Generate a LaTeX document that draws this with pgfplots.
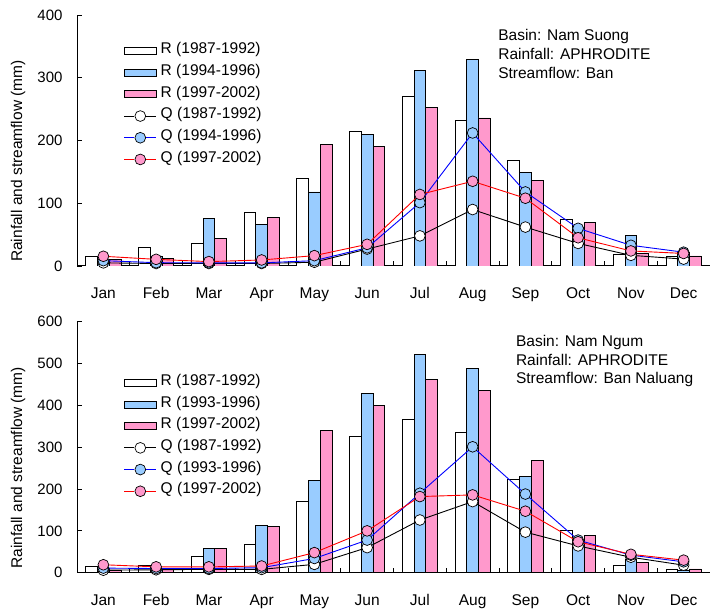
\documentclass[border=0pt]{standalone}
\usepackage{pgfplots}
\pgfplotsset{compat=1.18}
\usepackage{fontspec}
\setmainfont{Liberation Sans}
\definecolor{bblue}{RGB}{153,204,255}
\definecolor{bpink}{RGB}{255,153,204}
\pgfplotsset{
  mychart/.style={
    scale only axis, width=633pt, height=251pt,
    xmin=0.5, xmax=12.5, ymin=0,
    axis x line*=bottom, axis y line*=left,
    axis line style={line width=1pt},
    tick align=inside, tick pos=left,
    xtick={1,...,12},
    xticklabels={Jan,Feb,Mar,Apr,May,Jun,Jul,Aug,Sep,Oct,Nov,Dec},
    major x tick style={draw=none},
    minor xtick={1.5,2.5,...,11.5},
    minor tick length=5pt,
    major tick length=5pt,
    tick style={black, line width=0.8pt},
    xticklabel style={anchor=base, yshift=-33pt, font=\fontsize{15.5}{18}\selectfont},
    yticklabel style={xshift=-11pt, font=\fontsize{15}{18}\selectfont},
    /pgf/number format/assume math mode=true,
    ylabel={Rainfall and streamflow (mm)},
    ylabel style={at={(axis description cs:-0.093,0.418)}, anchor=center, font=\fontsize{15.5}{18}\selectfont},
    legend cell align=left,
    legend style={draw=none, fill=none, inner sep=0pt, outer sep=0pt,
      font=\fontsize{15.5}{18}\selectfont,
      row sep=0pt,
      nodes={inner sep=0pt, text height=13.5pt, text depth=8.2pt},
      /tikz/every odd column/.style={column sep=4pt}},
  },
  rbar/.style={ybar, bar width=0.222, draw=black, line width=0.8pt,
    legend image code/.code={\draw[##1, line width=0.8pt] (0pt,-3.5pt) rectangle (32pt,3.5pt);}},
  qline/.style={color=#1, line width=0.9pt, mark=none, forget plot},
  qmark/.style 2 args={only marks, black, mark=*, mark size=5.4pt, line width=0.7pt,
    mark options={fill=#2},
    legend image code/.code={%
      \draw[draw=#1, line width=0.9pt] (0pt,0pt) -- (10pt,0pt);
      \draw[draw=#1, line width=0.9pt] (22pt,0pt) -- (32pt,0pt);
      \draw[draw=black, fill=#2, line width=0.7pt] (16pt,0pt) circle[radius=5.4pt];}},
}
\pgfplotstableread{
m R1 R2 R3 Q1 Q2 Q3
1 14.8 9 10.6 5 8.5 15.5
2 29.8 16 12 4 5.3 10.6
3 36 76 44 4 5 7
4 86 66 78 4 5 9.6
5 140 118 193 6 8.5 16.5
6 215 209 190 27 29 34.5
7 271 311 253 48 101 114
8 232 329 236 90 212 135
9 168 149 136 62 118 108
10 75 62 70 36 60 45
11 18 48 20 17 33 24
12 16 22 16 11 22 20
}\topdata
\pgfplotstableread{
m R1 R2 R3 Q1 Q2 Q3
1 16 10 6.5 6 11 19
2 17.5 10 9 7 10 14
3 40 58 58 8 10 14
4 67 114 111 8 12 16
5 170 221 340 20 34 48
6 327 428 399 60 78 100
7 367 522 462 126 190 182
8 335 489 436 170 301 186
9 222 230 269 97 188 147
10 102 70 90 64 78 74
11 18 32 25 37 42 44
12 9 5 9 18 26 30
}\botdata
\begin{document}
\begin{tikzpicture}
\useasboundingbox (0,0) rectangle (711pt,608pt);
% top chart
\begin{axis}[mychart, at={(77pt,342pt)}, anchor=south west,
  ymax=400, ytick={0,100,...,400},
  legend style={at={(rel axis cs:0.074,0.9)}, anchor=north west}]
\addplot[rbar, bar shift=-0.222, fill=white] table[x=m,y=R1]{\topdata};
\addplot[rbar, bar shift=0, fill=bblue] table[x=m,y=R2]{\topdata};
\addplot[rbar, bar shift=0.222, fill=bpink] table[x=m,y=R3]{\topdata};
\addplot[qline=black] table[x=m,y=Q1]{\topdata};
\addplot[qmark={black}{white}] table[x=m,y=Q1]{\topdata};
\addplot[qline=blue] table[x=m,y=Q2]{\topdata};
\addplot[qmark={blue}{bblue}] table[x=m,y=Q2]{\topdata};
\addplot[qline=red] table[x=m,y=Q3]{\topdata};
\addplot[qmark={red}{bpink}] table[x=m,y=Q3]{\topdata};
\legend{R (1987-1992),R (1994-1996),R (1997-2002),Q (1987-1992),Q (1994-1996),Q (1997-2002)}
\node[anchor=base west, font=\fontsize{15.5}{18}\selectfont] at (rel axis cs:0.660,0.8976) {Basin: Nam Suong};
\node[anchor=base west, font=\fontsize{15.5}{18}\selectfont] at (rel axis cs:0.660,0.823) {Rainfall: APHRODITE};
\node[anchor=base west, font=\fontsize{15.5}{18}\selectfont] at (rel axis cs:0.660,0.749) {Streamflow: Ban};
\end{axis}
% bottom chart
\begin{axis}[mychart, at={(77pt,35.3pt)}, anchor=south west,
  ymax=600, ytick={0,100,...,600},
  legend style={at={(rel axis cs:0.074,0.8)}, anchor=north west}]
\addplot[rbar, bar shift=-0.222, fill=white] table[x=m,y=R1]{\botdata};
\addplot[rbar, bar shift=0, fill=bblue] table[x=m,y=R2]{\botdata};
\addplot[rbar, bar shift=0.222, fill=bpink] table[x=m,y=R3]{\botdata};
\addplot[qline=black] table[x=m,y=Q1]{\botdata};
\addplot[qmark={black}{white}] table[x=m,y=Q1]{\botdata};
\addplot[qline=blue] table[x=m,y=Q2]{\botdata};
\addplot[qmark={blue}{bblue}] table[x=m,y=Q2]{\botdata};
\addplot[qline=red] table[x=m,y=Q3]{\botdata};
\addplot[qmark={red}{bpink}] table[x=m,y=Q3]{\botdata};
\legend{R (1987-1992),R (1993-1996),R (1997-2002),Q (1987-1992),Q (1993-1996),Q (1997-2002)}
\node[anchor=base west, font=\fontsize{15.5}{18}\selectfont] at (rel axis cs:0.688,0.903) {Basin: Nam Ngum};
\node[anchor=base west, font=\fontsize{15.5}{18}\selectfont] at (rel axis cs:0.688,0.8275) {Rainfall: APHRODITE};
\node[anchor=base west, font=\fontsize{15.5}{18}\selectfont] at (rel axis cs:0.688,0.7546) {Streamflow: Ban Naluang};
\end{axis}
\end{tikzpicture}
\end{document}
